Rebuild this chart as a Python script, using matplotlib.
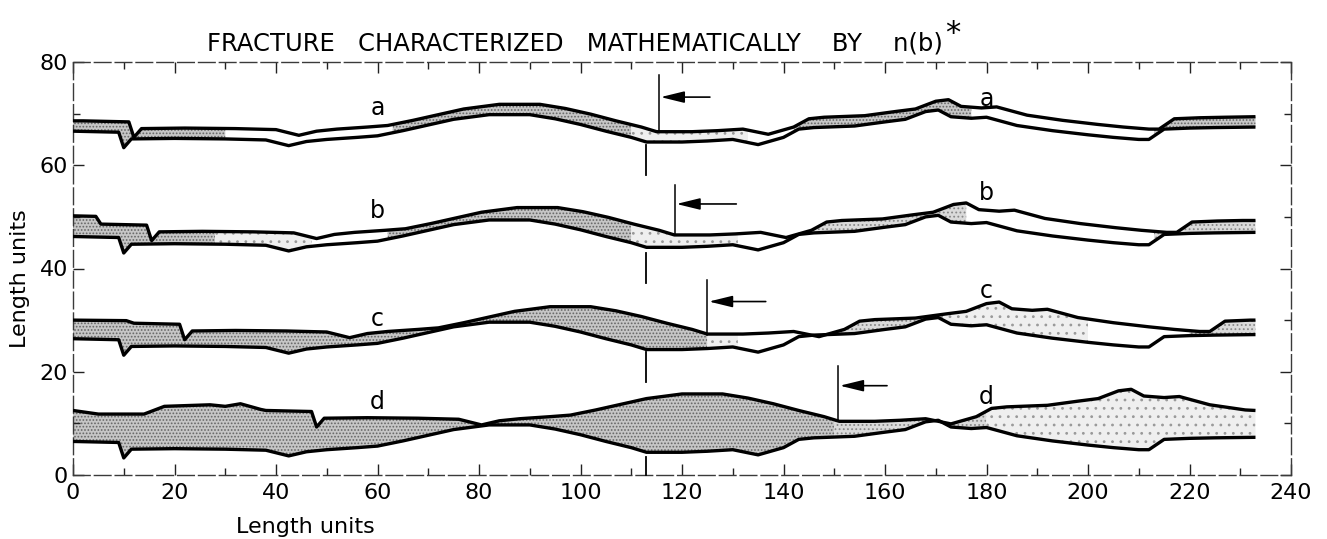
import numpy as np
import matplotlib
matplotlib.use("Agg")
import matplotlib.pyplot as plt
from matplotlib.ticker import MultipleLocator

plt.rcParams['font.family'] = ['DejaVu Sans']
plt.rcParams['hatch.linewidth'] = 0.8

# ---------------- data ----------------
x_lower = [0, 9, 10, 11.5, 20, 30, 38, 42.5, 46, 50, 56, 60, 65, 70, 75, 82, 90, 95, 100, 105,
           110, 113, 120, 125, 130, 135, 140, 143, 146, 154, 160, 164, 168, 170.5, 173, 177, 180,
           186, 193, 200, 205, 210, 212, 215, 220, 225, 233]

lower_a = [66.6, 66.4, 63.4, 65.1, 65.2, 65.1, 64.9, 63.8, 64.6, 65.0, 65.4, 65.7, 66.7, 67.8, 68.9,
           69.8, 69.8, 69.0, 67.9, 66.6, 65.4, 64.5, 64.5, 64.7, 65.0, 64.0, 65.4, 67.0, 67.3, 67.6,
           68.4, 68.9, 70.4, 70.7, 69.4, 69.1, 69.3, 67.7, 66.7, 65.9, 65.4, 65.0, 65.0, 67.0, 67.2,
           67.3, 67.4]
lower_b = [46.2, 46.0, 43.0, 44.7, 44.8, 44.7, 44.5, 43.4, 44.2, 44.6, 45.0, 45.3, 46.3, 47.4, 48.5,
           49.4, 49.4, 48.6, 47.5, 46.2, 45.0, 44.1, 44.1, 44.3, 44.6, 43.6, 45.0, 46.6, 46.9, 47.2,
           48.0, 48.5, 50.0, 50.3, 49.0, 48.7, 48.9, 47.3, 46.3, 45.5, 45.0, 44.6, 44.6, 46.6, 46.8,
           46.9, 47.0]
lower_c = [26.4, 26.2, 23.2, 24.9, 25.0, 24.9, 24.7, 23.6, 24.4, 24.8, 25.2, 25.5, 26.5, 27.6, 28.7,
           29.6, 29.6, 28.8, 27.7, 26.4, 25.2, 24.3, 24.3, 24.5, 24.8, 23.8, 25.2, 26.8, 27.1, 27.4,
           28.2, 28.7, 30.2, 30.5, 29.2, 28.9, 29.1, 27.5, 26.5, 25.7, 25.2, 24.8, 24.8, 26.8, 27.0,
           27.1, 27.2]
lower_d = [6.5, 6.3, 3.3, 5.0, 5.1, 5.0, 4.8, 3.7, 4.5, 4.9, 5.3, 5.6, 6.6, 7.7, 8.8,
           9.7, 9.7, 8.9, 7.8, 6.5, 5.3, 4.4, 4.4, 4.6, 4.9, 3.9, 5.3, 6.9, 7.2, 7.5,
           8.3, 8.8, 10.3, 10.6, 9.3, 9.0, 9.2, 7.6, 6.6, 5.8, 5.3, 4.9, 4.9, 6.9, 7.1,
           7.2, 7.3]

upper_a_x = [0, 2, 11, 12, 13.5, 22, 32, 40, 44.5, 48, 52, 58, 62, 67, 72, 77, 84, 92, 97, 102,
             107, 112, 115, 122, 127, 132, 137, 142, 145, 148, 156, 162, 166, 170, 172.5, 175, 179,
             182, 188, 195, 202, 207, 212, 214, 217, 222, 227, 233]
upper_a = [68.6, 68.6, 68.4, 65.4, 67.1, 67.2, 67.1, 66.9, 65.8, 66.6, 67.0, 67.4, 67.7, 68.7, 69.8,
           70.9, 71.8, 71.8, 71.0, 69.9, 68.6, 67.4, 66.5, 66.5, 66.7, 67.0, 66.0, 67.4, 69.0, 69.3,
           69.6, 70.4, 70.9, 72.4, 72.7, 71.4, 71.1, 71.3, 69.7, 68.7, 67.9, 67.4, 67.0, 67.0, 69.0,
           69.2, 69.3, 69.4]

upper_b_x = [0, 4.5, 5.5, 14.5, 15.5, 17, 25.5, 35.5, 43.5, 48, 51.5, 55.5, 61.5, 65.5, 70.5, 75.5,
             80.5, 87.5, 95.5, 100.5, 105.5, 110.5, 115.5, 118.5, 125.5, 130.5, 135.5, 140.5, 145.5,
             148.5, 151.5, 159.5, 165.5, 169.5, 173.5, 176, 178.5, 182.5, 185.5, 191.5, 198.5,
             205.5, 210.5, 215.5, 217.5, 220.5, 225.5, 230.5, 233]
upper_b = [50.2, 50.1, 48.6, 48.4, 45.4, 47.1, 47.2, 47.1, 46.9, 45.8, 46.6, 47.0, 47.4, 47.7, 48.7,
           49.8, 50.9, 51.8, 51.8, 51.0, 49.9, 48.6, 47.4, 46.5, 46.5, 46.7, 47.0, 46.0, 47.4, 49.0,
           49.3, 49.6, 50.4, 50.9, 52.4, 52.7, 51.4, 51.1, 51.3, 49.7, 48.7, 47.9, 47.4, 47.0, 47.0,
           49.0, 49.2, 49.3, 49.3]

upper_c_x = [0, 10.5, 12, 21, 22, 23.5, 32, 42, 50, 54.5, 58, 62, 68, 72, 77, 82, 87, 94, 102, 107,
             112, 117, 122, 125, 132, 137, 142, 147, 152, 155, 158, 166, 172, 176, 180, 182.5, 185,
             189, 192, 198, 205, 212, 217, 222, 224, 227, 232, 233]
upper_c = [30.0, 29.9, 29.4, 29.2, 26.2, 27.9, 28.0, 27.9, 27.7, 26.6, 27.4, 27.8, 28.2, 28.5, 29.5,
           30.6, 31.7, 32.6, 32.6, 31.8, 30.7, 29.4, 28.2, 27.3, 27.3, 27.5, 27.8, 26.8, 28.2, 29.8,
           30.1, 30.4, 31.2, 31.7, 33.2, 33.5, 32.2, 31.9, 32.1, 30.5, 29.5, 28.7, 28.2, 27.8, 27.8,
           29.8, 30.0, 30.0]

upper_d_x = [0, 5, 14, 18, 27, 30, 33, 37, 38, 47, 48, 49.5, 58, 68, 76, 80.5, 84, 88, 94, 98,
             103, 108, 113, 120, 128, 133, 138, 143, 148, 151, 158, 163, 168, 173, 178, 181, 184,
             192, 198, 202, 206, 208.5, 211, 215, 218, 224, 231, 233]
upper_d = [12.5, 11.8, 11.8, 13.3, 13.6, 13.3, 13.8, 12.7, 12.5, 12.3, 9.3, 11.0, 11.1, 11.0, 10.8,
           9.7, 10.5, 10.9, 11.3, 11.6, 12.6, 13.7, 14.8, 15.7, 15.7, 14.9, 13.8, 12.5, 11.3, 10.4,
           10.4, 10.6, 10.9, 9.9, 11.3, 12.9, 13.2, 13.5, 14.3, 14.8, 16.3, 16.6, 15.3, 15.0, 15.2,
           13.6, 12.6, 12.5]

# stippled stretches (x from, x to, density)
shade_a = [(0, 30, 'dense'), (63, 110, 'dense'), (110, 133, 'light'), (142, 177, 'dense'), (213, 233, 'dense')]
shade_b = [(0, 28, 'dense'), (28, 47, 'light'), (62, 110, 'dense'), (110, 131, 'light'),
           (143, 176, 'medium'), (213, 233, 'medium')]
shade_c = [(0, 70, 'dense'), (70, 80, 'medium'), (80, 125, 'dense'), (125, 131, 'light'),
           (145, 167, 'medium'), (167, 200, 'light'), (220, 233, 'medium')]
shade_d = [(0, 150, 'dense'), (150, 180, 'medium'), (180, 233, 'light')]

profile_labels = ['a', 'b', 'c', 'd']
label_left_y = [71.0, 51.1, 30.2, 14.1]
label_right_y = [72.9, 54.6, 35.6, 15.1]

marker_x = 113
marker_top = [63.9, 43.0, 23.8, 3.5]
marker_bottom = [58.1, 37.2, 18.0, 0.0]

arrow_x = [115.5, 118.6, 125.0, 150.8]
arrow_line_bottom = [66.6, 46.6, 27.2, 10.4]
arrow_line_top = [77.4, 56.2, 37.8, 21.2]
arrow_y = [73.2, 52.5, 33.6, 17.3]
arrow_tail = [125.5, 130.7, 136.5, 160.4]

x_ticks = list(range(0, 241, 20))
y_ticks = list(range(0, 81, 20))

title_text = 'FRACTURE   CHARACTERIZED   MATHEMATICALLY    BY    n(b)'

# ---------------- drawing ----------------
W, H = 1327, 539
fig = plt.figure(figsize=(W / 100, H / 100), dpi=100)
AL, AR, AB, AT = 73, 1291, 475, 62
ax = fig.add_axes([AL / W, 1 - AB / H, (AR - AL) / W, (AB - AT) / H])
ax.set_xlim(0, 240)
ax.set_ylim(0, 80)

styles = {
    'dense': dict(facecolor='#c6c6c6', hatch='.....', edgecolor='#666666'),
    'medium': dict(facecolor='#dadada', hatch='....', edgecolor='#888888'),
    'light': dict(facecolor='#efefef', hatch='..', edgecolor='#999999'),
}

pairs = [
    (x_lower, lower_a, upper_a_x, upper_a, shade_a),
    (x_lower, lower_b, upper_b_x, upper_b, shade_b),
    (x_lower, lower_c, upper_c_x, upper_c, shade_c),
    (x_lower, lower_d, upper_d_x, upper_d, shade_d),
]

for xl, yl, xu, yu, shades in pairs:
    xl_a, xu_a = np.asarray(xl, float), np.asarray(xu, float)
    for x0, x1, lev in shades:
        pts = np.concatenate([[x0, x1], xl_a[(xl_a > x0) & (xl_a < x1)],
                              xu_a[(xu_a > x0) & (xu_a < x1)]])
        xs = np.unique(pts)
        lo = np.interp(xs, xl, yl)
        hi = np.interp(xs, xu, yu)
        ax.fill_between(xs, lo, hi, linewidth=0, zorder=1, **styles[lev])
    ax.plot(xl, yl, color='black', lw=2.4, zorder=3, solid_joinstyle='round', solid_capstyle='butt')
    ax.plot(xu, yu, color='black', lw=2.4, zorder=3, solid_joinstyle='round', solid_capstyle='butt')

for i, lab in enumerate(profile_labels):
    ax.text(60, label_left_y[i], lab, ha='center', va='center', fontsize=17, zorder=4)
    ax.text(180, label_right_y[i], lab, ha='center', va='center', fontsize=17, zorder=4)
    ax.plot([marker_x, marker_x], [marker_top[i], marker_bottom[i]], color='black', lw=1.3,
            zorder=3, clip_on=False)
    ax.plot([arrow_x[i], arrow_x[i]], [arrow_line_bottom[i], arrow_line_top[i]], color='black',
            lw=1.1, zorder=3)
    ax.annotate('', xy=(arrow_x[i] + 0.3, arrow_y[i]), xytext=(arrow_tail[i], arrow_y[i]),
                arrowprops=dict(arrowstyle='-|>,head_length=0.9,head_width=0.22', lw=1.2,
                                color='black', shrinkA=0, shrinkB=0, mutation_scale=16),
                zorder=4)

# frame and ticks
for side, sp in ax.spines.items():
    sp.set_linewidth(1.0)
    sp.set_color('#3a3a3a')
    sp.set_linestyle((0, (12, 3)))
ax.xaxis.set_major_locator(MultipleLocator(20))
ax.xaxis.set_minor_locator(MultipleLocator(10))
ax.yaxis.set_major_locator(MultipleLocator(20))
ax.yaxis.set_minor_locator(MultipleLocator(10))
ax.set_xticks(x_ticks)
ax.set_yticks(y_ticks)
ax.tick_params(which='both', direction='in', top=True, right=True, labeltop=False,
               labelright=False, color='#222222', width=1.0, labelsize=16)
ax.tick_params(which='major', length=8)
ax.tick_params(which='minor', length=5)
ax.tick_params(axis='x', pad=5.5)
ax.tick_params(axis='y', pad=3.5)

# texts
title = fig.text(207 / W, 1 - 50 / H, title_text, ha='left', va='baseline', fontsize=17.5)
fig.canvas.draw()
bb = title.get_window_extent()
fig.text((bb.x1 + 2) / W, (bb.y1 - 2) / H, '*', ha='left', va='center', fontsize=22)

fig.text(305 / W, 1 - 527 / H, 'Length units', ha='center', va='center', fontsize=16)
fig.text(20 / W, 1 - 279 / H, 'Length units', ha='center', va='center', rotation=90, fontsize=16)

fig.savefig('out.png', dpi=100)
